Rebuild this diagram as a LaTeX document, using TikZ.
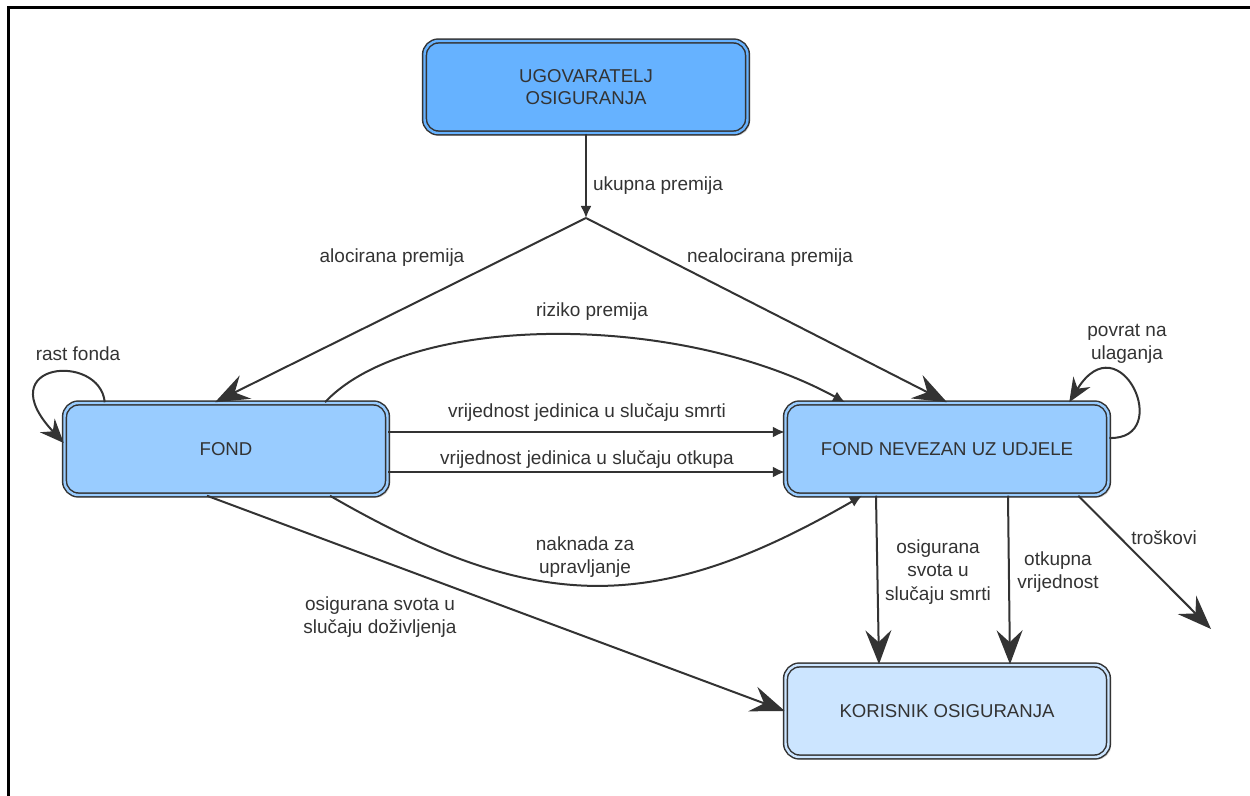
\documentclass[tikz,border=0pt]{standalone}
\usepackage{fontspec}
\setmainfont{Liberation Sans}
\usetikzlibrary{
    arrows.meta,
    calc,
    positioning,
    shadows
}
\definecolor{topblue}{HTML}{66B2FF}
\definecolor{midblue}{HTML}{99CCFF}
\definecolor{lowblue}{HTML}{CCE5FF}
\definecolor{ink}{HTML}{333333}
\tikzset{
    fundbox/.style={draw=ink, line width=0.75pt, double=#1, double distance=1.2pt,
        fill=#1, rounded corners=7pt, minimum width=161.5pt, minimum height=46pt,
        align=center, text=ink, font=\fontsize{9.3}{10.8}\selectfont,
        drop shadow={shadow xshift=1.3pt, shadow yshift=-1.3pt, opacity=0.3}},
    lbl/.style={align=center, text=ink, font=\fontsize{9.5}{11.7}\selectfont, inner sep=0pt},
    thinarr/.style={draw=ink, line width=1pt, -{Latex[length=6pt,width=5.5pt]}},
    bigarr/.style={draw=ink, line width=1pt, -{Stealth[length=17pt,width=13pt,inset=6pt]}},
    looparr/.style={draw=ink, line width=1pt, -{Stealth[length=12pt,width=10pt,inset=4pt]}}
}
\begin{document}
\begin{tikzpicture}[x=0.5pt, y=0.5pt]
                        \useasboundingbox (0,0) rectangle (1250,-796);
                        % frame
                        \draw[line width=1.5pt] (8,-796) -- (8,-8) -- (1250,-8);

                        \node[fundbox=topblue] (ugov) at (586,-87) {UGOVARATELJ\\OSIGURANJA};
                        \node[fundbox=midblue] (fond) at (226,-449) {FOND};
                        \node[fundbox=midblue] (nfond) at (947,-449) {FOND NEVEZAN UZ UDJELE};
                        \node[fundbox=lowblue] (kor) at (947,-711) {KORISNIK OSIGURANJA};
                        \coordinate (split) at (586,-218);
                        \coordinate (trosend) at (1211,-629);

                        \draw[thinarr] (ugov) -- (split);
                        \draw[bigarr] (split) -- ($(fond.north)+(-11,0)$);
                        \draw[bigarr] (split) -- (nfond.north);
                        \draw[thinarr] ($(fond.north)+(99,0)$) .. controls (410,-312) and (680,-312) .. ($(nfond.north)+(-102,0)$);
                        \draw[thinarr] ($(fond.east)+(0,17)$) -- ($(nfond.west)+(0,17)$);
                        \draw[thinarr] ($(fond.east)+(0,-23)$) -- ($(nfond.west)+(0,-23)$);
                        \draw[thinarr] ($(fond.south)+(104,0)$) to[out=-30, in=-150, looseness=1.15] ($(nfond.south)+(-85,0)$);
                        \draw[bigarr] ($(fond.south)+(-19,0)$) -- (kor.west);
                        \draw[bigarr] ($(nfond.south)+(-71,0)$) -- ($(kor.north)+(-68,0)$);
                        \draw[bigarr] ($(nfond.south)+(61,0)$) -- ($(kor.north)+(63,0)$);
                        \draw[bigarr] ($(nfond.south east)+(-31,0)$) -- (trosend);
                        % loops
                        \draw[looparr] ($(fond.north west)+(41,0)$) .. controls (100,-352) and (-12,-362) .. ($(fond.west)+(0,6)$);
                        \draw[looparr] ($(nfond.east)+(0,11)$) .. controls (1175,-440) and (1120,-320) .. ($(nfond.north east)+(-40,0)$);

                        \node[lbl] (lukupna) at (658,-186) {ukupna premija};
                        \node[lbl] (laloc) at (392,-258) {alocirana premija};
                        \node[lbl] (lnealoc) at (770,-258) {nealocirana premija};
                        \node[lbl] (lrizik) at (592,-312) {riziko premija};
                        \node[lbl] (lrast) at (78,-354) {rast fonda};
                        \node[lbl] (lpovrat) at (1127,-344) {povrat na\\ulaganja};
                        \node[lbl] (lsmrt) at (587,-413) {vrijednost jedinica u slučaju smrti};
                        \node[lbl] (lotkup) at (587,-460) {vrijednost jedinica u slučaju otkupa};
                        \node[lbl] (lnaknada) at (585,-557) {naknada za\\upravljanje};
                        \node[lbl] (ldozivlj) at (380,-617) {osigurana svota u\\slučaju doživljenja};
                        \node[lbl] (losvota) at (938,-572) {osigurana\\svota u\\slučaju smrti};
                        \node[lbl] (lotkupna) at (1058,-572) {otkupna\\vrijednost};
                        \node[lbl] (ltros) at (1164,-538) {troškovi};
                    \end{tikzpicture}
\end{document}
